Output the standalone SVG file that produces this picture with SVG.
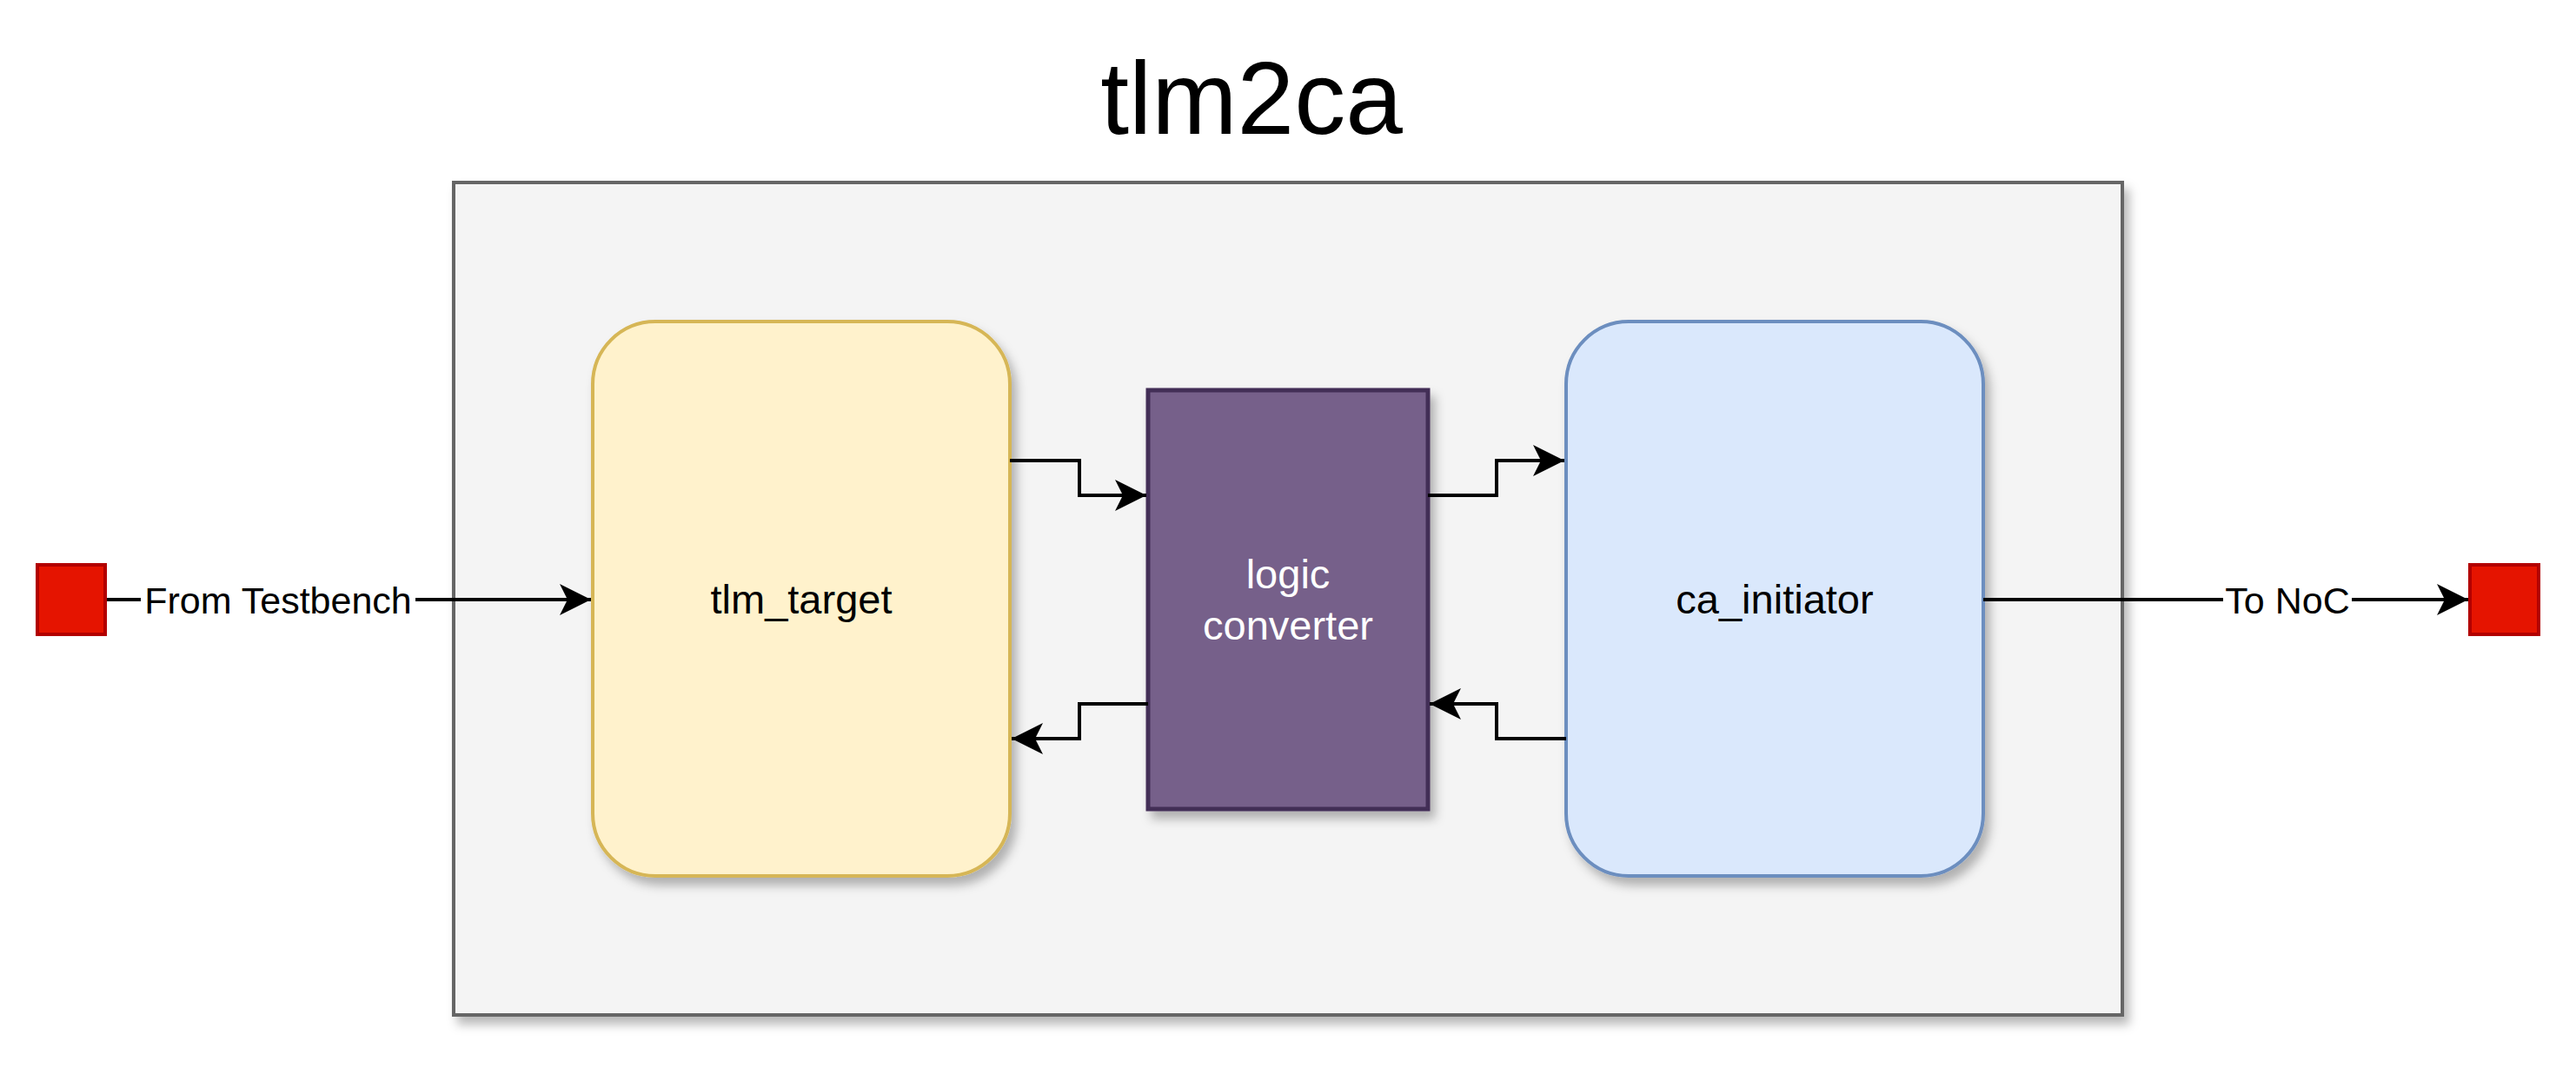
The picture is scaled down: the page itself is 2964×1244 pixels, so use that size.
<svg xmlns="http://www.w3.org/2000/svg" width="2964" height="1244" viewBox="0 0 2964 1244">
<style>
text{font-family:"Liberation Sans",Arial,sans-serif;}
.lbl{font-size:47px;text-anchor:middle;}
.elbl{font-size:43px;text-anchor:middle;fill:#000;}
.edge{fill:none;stroke:#000;stroke-width:4;}
</style>
<defs>
<filter id="sh" x="-10%" y="-10%" width="130%" height="130%">
<feDropShadow dx="6" dy="9" stdDeviation="6" flood-color="#000" flood-opacity="0.28"/>
</filter>
<marker id="arr" viewBox="-38 -20 40 40" refX="0" refY="0" markerWidth="40" markerHeight="40" markerUnits="userSpaceOnUse" orient="auto">
<path d="M0,0 L-36,-18 L-27,0 L-36,18 Z" fill="#000"/>
</marker>
</defs>
<rect width="2964" height="1244" fill="#fff"/>
<text x="1440" y="154" style="font-size:118px;text-anchor:middle;">tlm2ca</text>
<g id="tlm2ca-box">
<rect x="522" y="210" width="1920" height="958" fill="#f4f4f4" stroke="#666666" stroke-width="4" filter="url(#sh)"/>
</g>
<g id="tlm_target">
<rect x="682" y="370" width="480" height="638" rx="72" ry="72" fill="#fff2cc" stroke="#d6b656" stroke-width="4" filter="url(#sh)"/>
<text class="lbl" x="922" y="706">tlm_target</text>
</g>
<g id="logic_converter">
<rect x="1321" y="449" width="322" height="482" fill="#76608a" stroke="#432d57" stroke-width="5" filter="url(#sh)"/>
<text class="lbl" x="1482" y="677" fill="#ffffff">logic</text>
<text class="lbl" x="1482" y="736" fill="#ffffff">converter</text>
</g>
<g id="ca_initiator">
<rect x="1802" y="370" width="480" height="638" rx="72" ry="72" fill="#dae8fc" stroke="#6c8ebf" stroke-width="4" filter="url(#sh)"/>
<text class="lbl" x="2042" y="706">ca_initiator</text>
</g>
<g id="testbench_port">
<rect x="43" y="650" width="78" height="80" fill="#e51400" stroke="#b20000" stroke-width="4"/>
</g>
<g id="noc_port">
<rect x="2842" y="650" width="79" height="80" fill="#e51400" stroke="#b20000" stroke-width="4"/>
</g>
<g id="connectors">
<path class="edge" d="M123,690 L680,690" marker-end="url(#arr)"/>
<rect x="162" y="666" width="316" height="48" fill="#ffffff"/>
<text class="elbl" x="320" y="706">From Testbench</text>
<path class="edge" d="M2282,690 L2840,690" marker-end="url(#arr)"/>
<rect x="2558" y="666" width="148" height="48" fill="#ffffff"/>
<text class="elbl" x="2632" y="706">To NoC</text>
<path class="edge" d="M1162,530 L1242,530 L1242,570 L1319,570" marker-end="url(#arr)"/>
<path class="edge" d="M1643,570 L1722,570 L1722,530 L1800,530" marker-end="url(#arr)"/>
<path class="edge" d="M1321,810 L1242,810 L1242,850 L1164,850" marker-end="url(#arr)"/>
<path class="edge" d="M1802,850 L1722,850 L1722,810 L1645,810" marker-end="url(#arr)"/>
</g>
</svg>
